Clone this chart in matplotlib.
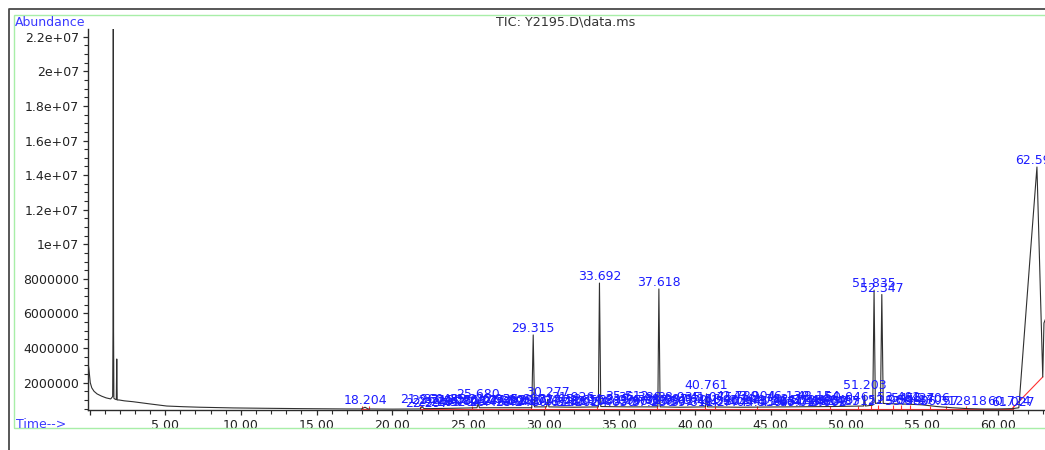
import numpy as np
import matplotlib.pyplot as plt
from matplotlib.ticker import MultipleLocator, FuncFormatter
from matplotlib.patches import Rectangle
from matplotlib.lines import Line2D

# TIC trace (time in min, abundance in millions)
tic_time = [-0.08, -0.03, 0.05, 0.15, 0.30, 0.50, 0.80, 1.10, 1.40, 1.53, 1.55, 1.57, 1.59, 1.61,
            1.68, 1.77, 1.80, 1.83, 1.95, 2.30, 2.87, 4.00, 5.10, 6.20, 7.30, 9.50, 11.50, 13.90,
            17.00, 17.95, 18.204, 18.40, 20.00, 21.85, 21.96, 22.10, 22.50, 24.00, 25.60, 25.68,
            25.76, 27.00, 29.22, 29.315, 29.40, 30.20, 30.277, 30.35, 32.00, 33.62, 33.692, 33.78,
            35.50, 37.55, 37.618, 37.70, 39.00, 40.70, 40.761, 40.83, 43.00, 46.00, 49.00, 51.15,
            51.203, 51.26, 51.75, 51.835, 51.92, 52.26, 52.347, 52.44, 53.00, 54.00, 55.00, 56.00,
            57.00, 58.00, 59.00, 60.00, 61.00, 61.40, 62.13, 62.596, 62.98, 63.06, 63.40]
tic_abund = [3.05, 2.70, 2.00, 1.70, 1.50, 1.35, 1.22, 1.12, 1.06, 1.20, 4.90, 22.45, 4.90, 1.10,
             1.05, 1.02, 3.37, 1.00, 1.00, 0.95, 0.90, 0.77, 0.65, 0.61, 0.58, 0.54, 0.52, 0.50,
             0.48, 0.48, 0.58, 0.48, 0.47, 0.48, 0.62, 0.50, 0.50, 0.52, 0.55, 0.80, 0.55, 0.55,
             0.55, 4.76, 0.60, 0.60, 1.05, 0.60, 0.58, 0.60, 7.76, 0.62, 0.60, 0.60, 7.42, 0.60,
             0.58, 0.60, 1.35, 0.60, 0.58, 0.60, 0.62, 0.65, 1.30, 0.65, 0.70, 7.35, 0.80, 0.85,
             7.10, 0.80, 0.78, 0.76, 0.72, 0.62, 0.55, 0.50, 0.48, 0.48, 0.50, 0.55, 9.10, 14.47,
             2.33, 5.45, 6.20]

# integrated peaks: retention time and label height (millions)
peak_rt = [18.204, 21.960, 22.297, 22.712, 23.105, 23.488, 23.920, 24.351, 24.803, 25.212,
           25.680, 26.044, 26.497, 26.935, 27.381, 27.806, 28.244, 28.690, 29.102, 29.315,
           29.774, 30.277, 30.613, 31.052, 31.488, 31.926, 32.202, 32.655, 33.108, 33.692,
           34.215, 34.630, 35.077, 35.512, 35.960, 36.388, 36.810, 37.236, 37.618, 38.087,
           38.501, 38.935, 39.372, 39.811, 40.258, 40.761, 41.075, 41.520, 41.963, 42.409,
           42.789, 43.248, 43.904, 44.336, 44.782, 45.215, 45.664, 46.138, 46.572, 47.014,
           47.460, 47.893, 48.154, 48.602, 49.045, 49.487, 50.046, 50.512, 51.203, 51.835,
           52.347, 52.906, 53.492, 53.980, 54.427, 54.870, 55.406, 56.312, 57.818, 60.724,
           61.027, 62.596]
peak_height = [0.58, 0.68, 0.45, 0.62, 0.50, 0.66, 0.48, 0.60, 0.52, 0.64,
               0.95, 0.58, 0.48, 0.66, 0.52, 0.60, 0.47, 0.64, 0.55, 4.76,
               0.62, 1.05, 0.50, 0.66, 0.55, 0.80, 0.48, 0.62, 0.52, 7.76,
               0.66, 0.50, 0.62, 0.82, 0.52, 0.80, 0.60, 0.48, 7.42, 0.64,
               0.52, 0.78, 0.60, 0.48, 0.66, 1.45, 0.80, 0.55, 0.62, 0.48,
               0.82, 0.58, 0.84, 0.50, 0.64, 0.56, 0.48, 0.86, 0.60, 0.50,
               0.62, 0.54, 0.84, 0.48, 0.60, 0.52, 0.80, 0.56, 1.45, 7.35,
               7.10, 0.62, 0.80, 0.56, 0.70, 0.60, 0.72, 0.55, 0.55, 0.52,
               0.50, 14.47]

# integration baselines (red)
base_t0 = [17.95, 21.85, 61.00]
base_t1 = [18.45, 61.00, 62.98]
base_v0 = [0.47, 0.46, 0.54]
base_v1 = [0.47, 0.46, 2.33]
event_t = [17.98, 18.45, 21.84, 25.30, 29.20, 30.10, 33.55, 37.50, 40.65, 41.30, 44.10,
           48.90, 50.80, 51.60, 52.10, 53.10, 53.60, 54.20, 55.50, 56.60, 57.90, 61.00]
event_v = [0.47, 0.47, 0.47, 0.50, 0.50, 0.50, 0.50, 0.50, 0.50, 0.48, 0.48,
           0.50, 0.50, 0.52, 0.52, 0.56, 0.52, 0.52, 0.50, 0.48, 0.46, 0.50]

blue = '#1c1cff'
ink = '#2b2b2b'
plt.rcParams['font.family'] = ['DejaVu Sans']

fig = plt.figure(figsize=(10.45, 4.5), dpi=100)
W, H = 1045.0, 450.0
ax = fig.add_axes([88 / W, (H - 410) / H, (1048.5 - 88) / W, (410 - 29) / H])

ax.plot(tic_time, [v * 1e6 for v in tic_abund], color='#303030', lw=0.8, zorder=3)

for t0, t1, v0, v1 in zip(base_t0, base_t1, base_v0, base_v1):
    ax.plot([t0, t1], [v0 * 1e6, v1 * 1e6], color='#ff3030', lw=0.8, zorder=2)
ax.plot(event_t, [v * 1e6 for v in event_v], ls='none', marker='|', ms=4, mew=0.8,
        color='#ff3030', zorder=2)

for rt, h in zip(peak_rt, peak_height):
    ax.annotate(f'{rt:.3f}', xy=(rt, h * 1e6), xytext=(0, 2), textcoords='offset points',
                ha='center', va='baseline', fontsize=9, color=blue, annotation_clip=False,
                zorder=4)

ax.set_xlim(-0.1, 63.36)
ax.set_ylim(0.42e6, 22.45e6)
ax.xaxis.set_major_locator(MultipleLocator(5))
ax.xaxis.set_minor_locator(MultipleLocator(1))
ax.yaxis.set_major_locator(MultipleLocator(2e6))
ax.yaxis.set_minor_locator(MultipleLocator(5e5))
ax.xaxis.set_major_formatter(FuncFormatter(lambda v, p: f'{v:.2f}' if v > 0 else ''))
ax.yaxis.set_major_formatter(FuncFormatter(lambda v, p: '%.7g' % v if v > 1e6 else ''))

for s in ['top', 'right']:
    ax.spines[s].set_visible(False)
for s in ['left', 'bottom']:
    ax.spines[s].set_color(ink)
    ax.spines[s].set_linewidth(1.0)
ax.tick_params(which='major', direction='out', length=3.8, width=0.9, color=ink,
               labelsize=9, labelcolor='#222222', pad=2.5)
ax.tick_params(which='minor', direction='out', length=2.6, width=0.8, color=ink)
ax.patch.set_alpha(0)

# page furniture
fig.add_artist(Rectangle((14 / W, (H - 428) / H), 1.2, (428 - 15) / H, transform=fig.transFigure,
                         fill=False, edgecolor='#a8eea8', lw=1.0))
fig.add_artist(Line2D([9 / W, 9 / W, 1.0], [0.0, (H - 9) / H, (H - 9) / H],
                      transform=fig.transFigure, color='#4a4a4a', lw=1.3))
fig.text(15 / W, (H - 23) / H, 'Abundance', color='#3a3aff', fontsize=9, ha='left', va='center')
fig.text(16 / W, (H - 425) / H, 'Time-->', color='#3a3aff', fontsize=9, ha='left', va='center')
fig.text(566 / W, (H - 22) / H, 'TIC: Y2195.D\\data.ms', color='#333333', fontsize=9.2,
         ha='center', va='center')

fig.savefig('out.png', dpi=100)
